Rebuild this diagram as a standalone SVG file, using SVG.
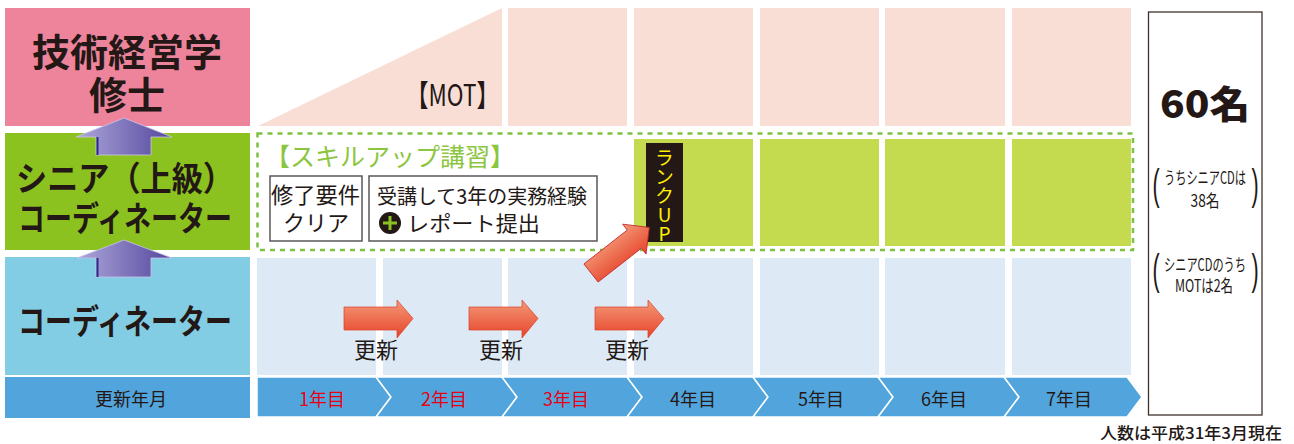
<svg xmlns="http://www.w3.org/2000/svg" width="1294" height="444" viewBox="0 0 1294 444">
<defs>
<style>
.jp{font-family:'Noto Sans CJK JP','Noto Sans',sans-serif;fill:#231815}
.b{font-weight:bold}
.pinkc{fill:#f9ded5}
.bluec{fill:#ddeaf6}
.greenc{fill:#c4db4f}
.bar{fill:#52a5dc;stroke:#ffffff;stroke-width:1.5}
.yr{font-size:18px;text-anchor:middle}
.upd{font-size:22px;text-anchor:middle}
.box{fill:#ffffff;stroke:#595757;stroke-width:1.5}
.paren{font-family:'Liberation Sans',sans-serif;font-size:43px;fill:#231815;text-anchor:middle}
.cond{font-size:17px;text-anchor:middle}
</style>
<linearGradient id="redg" x1="0" y1="0" x2="0" y2="1">
<stop offset="0" stop-color="#f39a78"/>
<stop offset="1" stop-color="#e7432a"/>
</linearGradient>
<linearGradient id="purg" x1="0" y1="0" x2="1" y2="0">
<stop offset="0" stop-color="#aea7dc"/>
<stop offset="1" stop-color="#54479c"/>
</linearGradient>
</defs>
<rect width="1294" height="444" fill="#ffffff"/>

<!-- top row -->
<g id="row-mot">
<rect x="5" y="8" width="245" height="118" fill="#ee849b"/>
<text class="jp b" x="127" y="66" font-size="38" text-anchor="middle">技術経営学</text>
<text class="jp b" x="127" y="109" font-size="38" text-anchor="middle">修士</text>
<polygon class="pinkc" points="258,126 502,8 502,126"/>
<rect class="pinkc" x="508" y="8" width="119" height="118"/>
<rect class="pinkc" x="634" y="8" width="119" height="118"/>
<rect class="pinkc" x="760" y="8" width="119" height="118"/>
<rect class="pinkc" x="885" y="8" width="120" height="118"/>
<rect class="pinkc" x="1012" y="8" width="119" height="118"/>
<text class="jp" x="406" y="106" font-size="30" textLength="93" lengthAdjust="spacingAndGlyphs">【MOT】</text>
</g>

<!-- senior row -->
<g id="row-senior">
<rect x="5" y="133" width="245" height="117" fill="#8cc21f"/>
<text class="jp b" x="16" y="191" font-size="34" textLength="218" lengthAdjust="spacingAndGlyphs">シニア（上級）</text>
<text class="jp b" x="18" y="231" font-size="34" textLength="214" lengthAdjust="spacingAndGlyphs">コーディネーター</text>
<rect class="greenc" x="634" y="139" width="119" height="107"/>
<rect class="greenc" x="760" y="139" width="119" height="107"/>
<rect class="greenc" x="885" y="139" width="120" height="107"/>
<rect class="greenc" x="1012" y="139" width="119" height="107"/>
<rect x="257.5" y="133.5" width="875.5" height="116.5" fill="none" stroke="#7cc242" stroke-width="2.5" stroke-dasharray="5 5"/>
<text class="jp" x="265" y="166" font-size="25" style="fill:#8cc63f" textLength="250" lengthAdjust="spacingAndGlyphs">【スキルアップ講習】</text>
</g>

<g id="req-complete">
<rect class="box" x="270" y="176" width="92" height="65"/>
<text class="jp" x="271" y="203" font-size="22" textLength="89" lengthAdjust="spacingAndGlyphs">修了要件</text>
<text class="jp" x="316" y="231" font-size="22" text-anchor="middle">クリア</text>
</g>

<g id="req-experience">
<rect class="box" x="369" y="176" width="228" height="65"/>
<text class="jp" x="377" y="204" font-size="20" textLength="210" lengthAdjust="spacingAndGlyphs">受講して3年の実務経験</text>
<circle cx="390" cy="223" r="11" fill="#231815"/>
<path d="M383,223 H397 M390,216 V230" stroke="#8cc21f" stroke-width="3"/>
<text class="jp" x="407" y="231" font-size="21" textLength="133" lengthAdjust="spacingAndGlyphs">レポート提出</text>
</g>

<!-- coordinator row -->
<g id="row-coordinator">
<rect x="5" y="257" width="245" height="118" fill="#82cde4"/>
<text class="jp b" x="18" y="334" font-size="34" textLength="214" lengthAdjust="spacingAndGlyphs">コーディネーター</text>
<rect class="bluec" x="257" y="258" width="119" height="117"/>
<rect class="bluec" x="383" y="258" width="119" height="117"/>
<rect class="bluec" x="508" y="258" width="119" height="117"/>
<rect class="bluec" x="634" y="258" width="119" height="117"/>
<rect class="bluec" x="760" y="258" width="119" height="117"/>
<rect class="bluec" x="885" y="258" width="120" height="117"/>
<rect class="bluec" x="1012" y="258" width="119" height="117"/>
<text class="jp upd" x="376" y="358">更新</text>
<text class="jp upd" x="501" y="358">更新</text>
<text class="jp upd" x="627" y="358">更新</text>
</g>

<!-- timeline -->
<g id="timeline">
<rect x="5" y="377" width="245" height="41" fill="#52a5dc"/>
<text class="jp" x="131" y="406" font-size="18" text-anchor="middle">更新年月</text>
<path class="bar" d="M257,377 H376 L391,397 L376,417 H257 Z"/>
<path class="bar" d="M376,377 H502 L517,397 L502,417 H376 L391,397 Z"/>
<path class="bar" d="M502,377 H627 L642,397 L627,417 H502 L517,397 Z"/>
<path class="bar" d="M627,377 H753 L768,397 L753,417 H627 L642,397 Z"/>
<path class="bar" d="M753,377 H878 L893,397 L878,417 H753 L768,397 Z"/>
<path class="bar" d="M878,377 H1004 L1019,397 L1004,417 H878 L893,397 Z"/>
<path class="bar" d="M1004,377 H1127 L1142,397 L1127,417 H1004 L1019,397 Z"/>
<text class="jp yr" style="fill:#e60012" x="322" y="406">1年目</text>
<text class="jp yr" style="fill:#e60012" x="444" y="406">2年目</text>
<text class="jp yr" style="fill:#e60012" x="566" y="406">3年目</text>
<text class="jp yr" x="693" y="406">4年目</text>
<text class="jp yr" x="821" y="406">5年目</text>
<text class="jp yr" x="944" y="406">6年目</text>
<text class="jp yr" x="1069" y="406">7年目</text>
</g>

<!-- totals -->
<g id="totals">
<rect x="1148.5" y="12" width="113.5" height="403" fill="#ffffff" stroke="#40302c" stroke-width="1.3"/>
<text class="jp" x="1205" y="118" font-size="38" font-weight="900" text-anchor="middle" textLength="90" lengthAdjust="spacingAndGlyphs">60名</text>
<text class="paren" transform="translate(1156,199) scale(0.5,1)">(</text>
<text class="paren" transform="translate(1255,199) scale(0.5,1)">)</text>
<text class="jp cond" x="1205" y="184" textLength="82" lengthAdjust="spacingAndGlyphs">うちシニアCDは</text>
<text class="jp cond" x="1205" y="207" textLength="29" lengthAdjust="spacingAndGlyphs">38名</text>
<text class="paren" transform="translate(1156,284) scale(0.5,1)">(</text>
<text class="paren" transform="translate(1255,284) scale(0.5,1)">)</text>
<text class="jp cond" x="1205" y="271" textLength="82" lengthAdjust="spacingAndGlyphs">シニアCDのうち</text>
<text class="jp cond" x="1204" y="292" textLength="58" lengthAdjust="spacingAndGlyphs">MOTは2名</text>
<text class="jp" x="1282" y="439" font-size="16" text-anchor="end" font-weight="500" textLength="182" lengthAdjust="spacingAndGlyphs">人数は平成31年3月現在</text>
</g>

<!-- rank up label -->
<g id="rank-up">
<rect x="646" y="143" width="37" height="99" fill="#231815"/>
<text x="664.5" y="148" font-family="'Noto Sans CJK JP','Noto Sans',sans-serif" font-size="19" fill="#fff100" style="writing-mode:vertical-rl;text-orientation:upright">ランクUP</text>
</g>

<!-- connectors -->
<g id="connectors">
<g id="up-arrow-1">
<path d="M124,118 L172,137 L151,137 L151,155 L96,155 L96,137 L76,137 Z" fill="url(#purg)" stroke="#c9c4ea" stroke-width="0.8"/>
<line x1="97.5" y1="137" x2="97.5" y2="155" stroke="#2b2a86" stroke-width="2"/>
</g>
<g id="up-arrow-2">
<path d="M124,240 L172,258 L151,258 L151,277 L96,277 L96,258 L77,258 Z" fill="url(#purg)" stroke="#c9c4ea" stroke-width="0.8"/>
<line x1="97.5" y1="258" x2="97.5" y2="277" stroke="#2b2a86" stroke-width="2"/>
</g>
<path id="renew-1" d="M344,307 H397 V300 L413,318.5 L397,338 V330 H344 Z" fill="url(#redg)" stroke="#d8412a" stroke-width="0.7"/>
<path id="renew-2" d="M469,307 H522 V300 L538,318.5 L522,338 V330 H469 Z" fill="url(#redg)" stroke="#d8412a" stroke-width="0.7"/>
<path id="renew-3" d="M595,307 H648 V300 L664,318.5 L648,338 V330 H595 Z" fill="url(#redg)" stroke="#d8412a" stroke-width="0.7"/>
<path id="rankup-arrow" transform="translate(591,273) rotate(-38)" d="M0,-11.5 H55 V-19 L74,0 L55,19 V11.5 H0 Z" fill="url(#redg)" stroke="#c1272d" stroke-width="0.8"/>
</g>
</svg>
